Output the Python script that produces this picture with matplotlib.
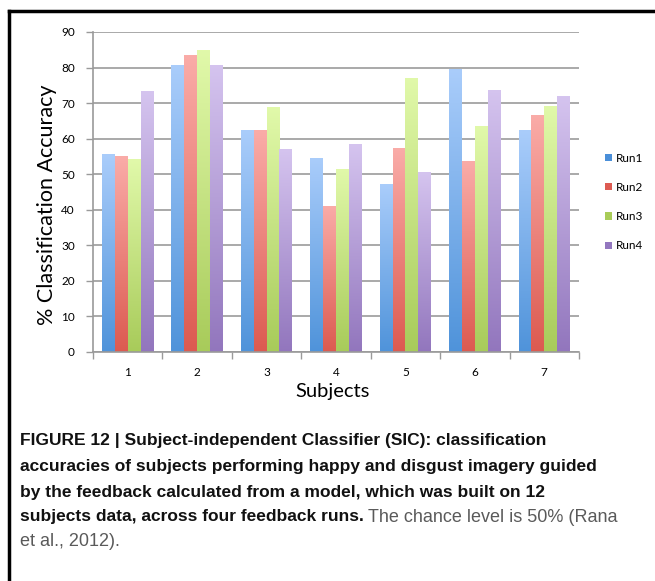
import numpy as np
import matplotlib
matplotlib.use('Agg')
import matplotlib.pyplot as plt
from matplotlib.colors import LinearSegmentedColormap
from matplotlib.patches import Patch
from matplotlib.lines import Line2D

subjects = ['1', '2', '3', '4', '5', '6', '7']
run1 = [55.6, 80.8, 62.4, 54.7, 47.3, 79.6, 62.4]
run2 = [55.1, 83.4, 62.4, 41.1, 57.3, 53.6, 66.6]
run3 = [54.2, 84.9, 68.9, 51.6, 77.1, 63.5, 69.2]
run4 = [73.4, 80.8, 57.0, 58.4, 50.5, 73.8, 71.9]
runs = ['Run1', 'Run2', 'Run3', 'Run4']

# (bottom, top, legend) colours for each run
colors = [('#4f93da', '#aacdfb', '#4a8fd9'),
          ('#dc5a50', '#faaca8', '#dd5b52'),
          ('#a8cb5a', '#e1f9aa', '#a9cc58'),
          ('#9276bd', '#d5c4ef', '#9377bf')]

plt.rcParams['font.family'] = ['Lato', 'DejaVu Sans']

fig = plt.figure(figsize=(6.55, 5.81), dpi=100)
W, H = 655, 581
ax = fig.add_axes([93 / W, 1 - 352 / H, (579 - 93) / W, (352 - 32) / H])

x = np.arange(len(subjects))
bw = 0.185
data = [run1, run2, run3, run4]
for j, vals in enumerate(data):
    cmap = LinearSegmentedColormap.from_list('g%d' % j, [colors[j][0], colors[j][1]])
    bars = ax.bar(x + (j - 1.5) * bw, vals, bw, color='none', edgecolor='none', zorder=2)
    for b in bars:
        grad = np.linspace(0, 1, 256).reshape(-1, 1)
        im = ax.imshow(grad, extent=[b.get_x(), b.get_x() + b.get_width(), 0, b.get_height()],
                       origin='lower', cmap=cmap, aspect='auto', zorder=2, interpolation='bilinear')
        im.set_clip_path(b)

ax.set_xlim(-0.5, len(subjects) - 0.5)
ax.set_ylim(0, 90)
ax.set_yticks(range(0, 91, 10))
ax.set_xticks(x)
ax.set_xticklabels(subjects)
ax.set_xticks(np.arange(-0.5, len(subjects), 1), minor=True)
ax.tick_params(axis='x', which='major', length=0, pad=11, labelsize=8.5)
ax.tick_params(axis='x', which='minor', length=5, color='#9a9a9a', width=1)
ax.tick_params(axis='y', length=5, color='#9a9a9a', width=1, pad=8, labelsize=8.5)
ax.yaxis.grid(True, color='#a3a3a3', linewidth=1.3, zorder=0)
ax.set_axisbelow(True)
for s in ['top', 'right']:
    ax.spines[s].set_visible(False)
for s in ['left', 'bottom']:
    ax.spines[s].set_color('#9a9a9a')
    ax.spines[s].set_linewidth(1.2)

fig.text(47 / W, 1 - 205 / H, '% Classification Accuracy', rotation=90,
         ha='center', va='center', fontsize=15.5)
fig.text(333 / W, 1 - 391 / H, 'Subjects', ha='center', va='center', fontsize=14.5)

handles = [Patch(facecolor=colors[j][2], edgecolor='none') for j in range(4)]
fig.legend(handles, runs, loc='center left', bbox_to_anchor=(605 / W, 1 - 202 / H),
           frameon=False, fontsize=8.5, handlelength=0.6, handleheight=0.6,
           handletextpad=0.3, labelspacing=1.55, borderpad=0, borderaxespad=0)

# outer frame (left and top edges only)
fig.add_artist(Line2D([9 / W, 9 / W], [0, 1 - 11 / H], color='black', lw=2.5, transform=fig.transFigure))
fig.add_artist(Line2D([9 / W, 1], [1 - 11 / H, 1 - 11 / H], color='black', lw=2.5, transform=fig.transFigure))

# caption
cap_font = ['Liberation Sans', 'DejaVu Sans']
bold_lines = ['FIGURE 12 | Subject-independent Classifier (SIC): classification',
              'accuracies of subjects performing happy and disgust imagery guided',
              'by the feedback calculated from a model, which was built on 12',
              'subjects data, across four feedback runs.']
ys = [440, 466, 492, 517]
for t, yy in zip(bold_lines, ys):
    last = fig.text(20 / W, 1 - yy / H, t, fontsize=12.5, fontweight='bold', family=cap_font,
                    va='center', ha='left', color='#111111')
fig.canvas.draw()
r = fig.canvas.get_renderer()
bb = last.get_window_extent(r)
fig.text(bb.x1 / W + 4 / W, 1 - 517 / H, 'The chance level is 50% (Rana', fontsize=13,
         family=cap_font, va='center', ha='left', color='#5a5a5a')
fig.text(20 / W, 1 - 542 / H, 'et al., 2012).', fontsize=13, family=cap_font,
         va='center', ha='left', color='#5a5a5a')

fig.savefig('out.png', dpi=100)
